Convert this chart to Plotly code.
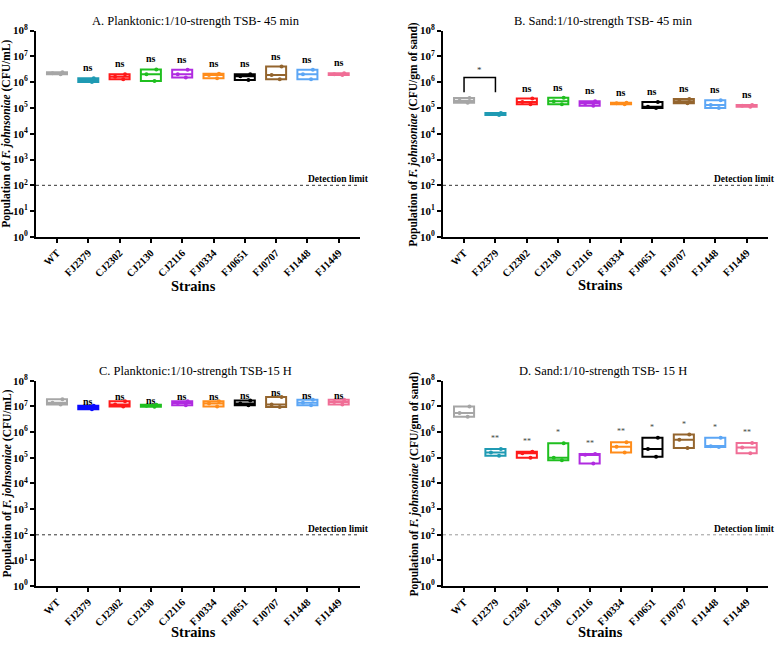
import numpy as np
import plotly.graph_objects as go
from plotly.subplots import make_subplots

W, H = 779, 645
FONT = "Liberation Serif"

strains = ["WT", "FJ2379", "CJ2302", "CJ2130", "CJ2116",
           "FJ0334", "FJ0651", "FJ0707", "FJ1448", "FJ1449"]

colors = ["#a6a6a6", "#1f9ab3", "#ff1a1a", "#1fbf1f", "#b02be0",
          "#ff8c1a", "#000000", "#94652e", "#5ca6f5", "#f06e96"]
colors_c = ["#a6a6a6", "#0a0aff", "#ff1a1a", "#1fbf1f", "#b02be0",
            "#ff8c1a", "#000000", "#94652e", "#5ca6f5", "#f06e96"]

# three replicates per strain (CFU)
plank_45 = [[2.0e6, 2.2e6, 2.4e6], [1.0e6, 1.2e6, 1.4e6], [1.3e6, 1.6e6, 2.0e6],
            [1.1e6, 2.0e6, 3.1e6], [1.5e6, 2.0e6, 3.0e6], [1.4e6, 1.9e6, 2.1e6],
            [1.2e6, 1.7e6, 2.0e6], [1.3e6, 1.9e6, 4.0e6], [1.3e6, 2.0e6, 3.0e6],
            [1.9e6, 2.0e6, 2.2e6]]
sand_45 = [[1.6e5, 1.9e5, 2.4e5], [5.3e4, 5.8e4, 6.3e4], [1.4e5, 1.7e5, 2.3e5],
           [1.4e5, 1.8e5, 2.5e5], [1.2e5, 1.5e5, 1.8e5], [1.4e5, 1.5e5, 1.6e5],
           [1.0e5, 1.1e5, 1.7e5], [1.5e5, 1.8e5, 2.2e5], [1.0e5, 1.3e5, 2.0e5],
           [1.1e5, 1.2e5, 1.3e5]]
plank_15 = [[1.2e7, 1.4e7, 1.9e7], [7.8e6, 9.0e6, 1.05e7], [1.0e7, 1.2e7, 1.6e7],
            [9.8e6, 1.05e7, 1.15e7], [1.1e7, 1.35e7, 1.6e7], [1.0e7, 1.3e7, 1.6e7],
            [1.1e7, 1.3e7, 1.7e7], [9.5e6, 1.2e7, 2.3e7], [1.1e7, 1.4e7, 1.8e7],
            [1.2e7, 1.5e7, 1.8e7]]
sand_15 = [[4.0e6, 5.5e6, 1.0e7], [1.2e5, 1.6e5, 2.2e5], [1.0e5, 1.5e5, 1.7e5],
           [8.0e4, 1.0e5, 3.7e5], [6.0e4, 1.3e5, 1.4e5], [1.6e5, 2.7e5, 4.0e5],
           [1.1e5, 2.2e5, 6.0e5], [2.4e5, 5.0e5, 8.0e5], [2.6e5, 2.8e5, 6.0e5],
           [1.5e5, 2.5e5, 3.8e5]]

sig_plank_45 = ["", "ns", "ns", "ns", "ns", "ns", "ns", "ns", "ns", "ns"]
sig_sand_45 = ["", "", "ns", "ns", "ns", "ns", "ns", "ns", "ns", "ns"]
sig_plank_15 = ["", "ns", "ns", "ns", "ns", "ns", "ns", "ns", "ns", "ns"]
sig_sand_15 = ["", "**", "**", "*", "**", "**", "*", "*", "*", "**"]

# WT vs FJ2379 bracket in panel B
bracket_x = [0, 0, 1, 1]
bracket_y = [4.0e5, 1.5e6, 1.5e6, 4.0e5]

detection_limit = 100

panels = [
    dict(title="A. Planktonic:1/10-strength TSB- 45 min", data=plank_45, colors=colors,
         sig=sig_plank_45, unit="(CFU/mL)", px=(36, 360), py=(23, 234), xt=284,
         sig_shift=3, sig_size=10, dl_end=371),
    dict(title="B. Sand:1/10-strength TSB- 45 min", data=sand_45, colors=colors,
         sig=sig_sand_45, unit="(CFU/gm of sand)", px=(443, 768), py=(23, 234), xt=283,
         sig_shift=3, sig_size=10, dl_end=777),
    dict(title="C. Planktonic:1/10-strength TSB-15 H", data=plank_15, colors=colors_c,
         sig=sig_plank_15, unit="(CFU/mL)", px=(36, 360), py=(381, 591), xt=638,
         sig_shift=-3, sig_size=10, dl_end=371),
    dict(title="D. Sand:1/10-strength TSB- 15 H", data=sand_15, colors=colors,
         sig=sig_sand_15, unit="(CFU/gm of sand)", px=(443, 768), py=(381, 591), xt=638,
         sig_shift=4, sig_size=8, dl_end=777),
]

fig = make_subplots(rows=2, cols=2)
annotations = []
xr = [-0.67, 9.68]

for k, p in enumerate(panels):
    row, col = k // 2 + 1, k % 2 + 1
    ax = "" if k == 0 else str(k + 1)
    for i, vals in enumerate(p["data"]):
        c = p["colors"][i]
        fig.add_trace(go.Box(
            x=[i] * len(vals), y=vals, quartilemethod="exclusive",
            boxpoints="all", jitter=0.7, pointpos=0, width=0.64,
            line=dict(color=c, width=2), fillcolor="rgba(255,255,255,0)",
            marker=dict(color=c, size=4), whiskerwidth=0,
            showlegend=False, hoverinfo="skip"), row=row, col=col)
        if p["sig"][i]:
            annotations.append(dict(
                x=i, y=np.log10(max(vals)), xref="x" + ax, yref="y" + ax,
                text="<b>%s</b>" % p["sig"][i] if p["sig_size"] > 9 else p["sig"][i],
                showarrow=False, yanchor="bottom", yshift=p["sig_shift"],
                font=dict(family=FONT, size=p["sig_size"],
                          color="black" if p["sig_size"] > 9 else "#444")))

    # detection limit
    fig.add_trace(go.Scatter(
        x=xr, y=[detection_limit] * 2, mode="lines",
        line=dict(color="#333" if k < 3 else "#999", width=1, dash="dot"),
        showlegend=False, hoverinfo="skip"), row=row, col=col)
    annotations.append(dict(
        x=p["dl_end"] / W, y=np.log10(detection_limit), xref="paper", yref="y" + ax,
        text="<b>Detection limit</b>", showarrow=False, xanchor="right", yanchor="bottom",
        yshift=-1, font=dict(family=FONT, size=9.5, color="black")))

    x0, x1 = p["px"]
    y0, y1 = p["py"]
    fig.update_xaxes(
        domain=[x0 / W, x1 / W], range=xr, tickmode="array",
        tickvals=list(range(len(strains))), ticktext=["<b>%s</b>" % s for s in strains],
        tickangle=-45, ticks="outside", ticklen=4, tickwidth=1.5, tickcolor="black",
        showline=True, linecolor="black", linewidth=1.8, showgrid=False, zeroline=False,
        tickfont=dict(family=FONT, size=10.5, color="black"),
        row=row, col=col)
    fig.update_yaxes(
        domain=[1 - y1 / H, 1 - y0 / H], type="log", range=[0, 8],
        tickmode="array", tickvals=[10 ** n for n in range(9)],
        ticktext=["<b>10<sup>%d</sup></b>" % n for n in range(9)],
        ticks="outside", ticklen=4, tickwidth=1.5, tickcolor="black",
        showline=True, linecolor="black", linewidth=1.8, showgrid=False, zeroline=False,
        tickfont=dict(family=FONT, size=11, color="black"),
        row=row, col=col)

    # panel title, axis titles
    annotations.append(dict(
        x=(x0 + x1) / 2 / W - 0.003, y=1 - (y0 - 10) / H, xref="paper", yref="paper",
        text=p["title"], showarrow=False, xanchor="center", yanchor="middle",
        font=dict(family=FONT, size=12.5, color="black")))
    annotations.append(dict(
        x=(x0 - 29) / W, y=1 - (y0 + y1) / 2 / H, xref="paper", yref="paper",
        text="<b>Population of <i>F. johnsoniae</i> %s</b>" % p["unit"],
        showarrow=False, textangle=-90, xanchor="center", yanchor="middle",
        font=dict(family=FONT, size=11.5, color="black")))
    annotations.append(dict(
        x=(x0 + x1) / 2 / W - 0.006, y=1 - p["xt"] / H, xref="paper", yref="paper",
        text="<b>Strains</b>", showarrow=False, xanchor="center", yanchor="middle",
        font=dict(family=FONT, size=14.5, color="black")))

# significance bracket in panel B
fig.add_trace(go.Scatter(
    x=bracket_x, y=bracket_y, mode="lines", line=dict(color="black", width=1.5),
    showlegend=False, hoverinfo="skip"), row=1, col=2)
annotations.append(dict(
    x=np.mean(bracket_x), y=np.log10(max(bracket_y)), xref="x2", yref="y2",
    text="*", showarrow=False, yanchor="bottom", yshift=1,
    font=dict(family=FONT, size=9, color="#333")))

fig.update_layout(
    width=W, height=H, margin=dict(l=0, r=0, t=0, b=0),
    paper_bgcolor="white", plot_bgcolor="white",
    boxmode="overlay", annotations=annotations,
    font=dict(family=FONT, color="black"),
)

fig.write_html("out.html", config={"displayModeBar": False},
               post_script="document.body.style.margin = '0px';")
